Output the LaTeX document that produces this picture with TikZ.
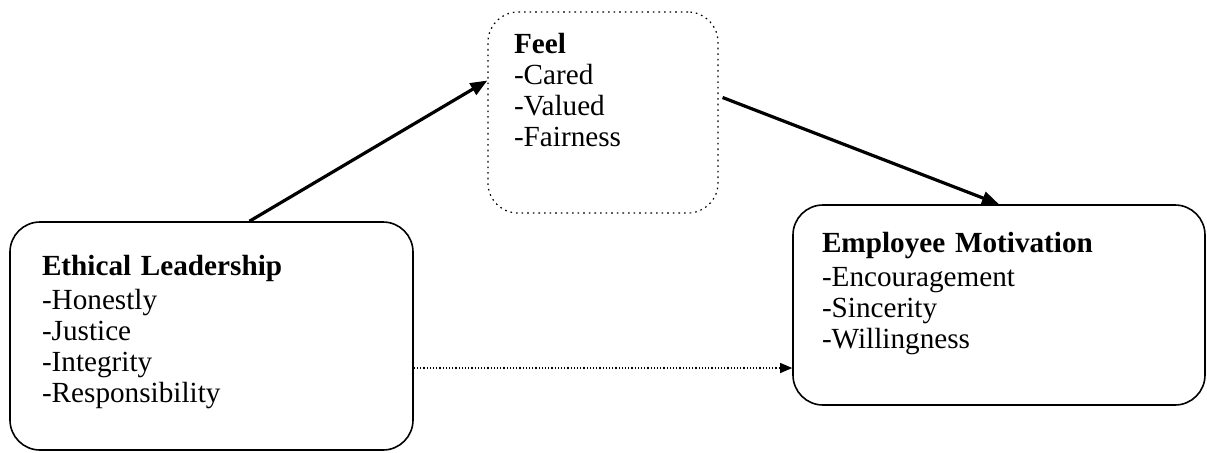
\documentclass[tikz,border=0pt]{standalone}
\usepackage{fontspec}
\setmainfont{Liberation Serif}
\usetikzlibrary{arrows.meta, positioning}

\begin{document}
\begin{tikzpicture}[x=0.5pt, y=-0.5pt]
% Define box styles
\tikzstyle{factor} = [rectangle, draw=black, line width=0.8pt, rounded corners=15pt, inner ysep=0pt, align=left, font=\fontsize{14.6}{15.5}\selectfont]
\tikzstyle{arrow} = [-{Triangle[length=8.5pt,width=6.5pt]}, line width=1.6pt, draw=black]
\tikzstyle{direct} = [-{Triangle[length=6pt,width=5pt]}, densely dotted, line width=0.6pt, draw=black]
\useasboundingbox (0,0) rectangle (1207,452);
% Define nodes (variables)
\node[factor, minimum width=201.5pt, minimum height=114pt, text width=169.5pt, inner xsep=16pt] (EthicalLeadership) at (211.5,336)
  {\textbf{Ethical Leadership}\\[1.5pt] -Honestly\\ -Justice\\ -Integrity\\ -Responsibility\rule[-7.5pt]{0pt}{0pt}};
\node[factor, dotted, line width=0.6pt, minimum width=115pt, minimum height=100.5pt, text width=89pt, inner xsep=13pt] (Feel) at (603,112.5)
  {\textbf{Feel}\\ -Cared\\ -Valued\\ -Fairness\rule[-22.5pt]{0pt}{0pt}};
\node[factor, minimum width=206pt, minimum height=100pt, text width=177pt, inner xsep=14.5pt] (EmployeeMotivation) at (999,305)
  {\textbf{Employee Motivation}\\[1.5pt] -Encouragement\\ -Sincerity\\ -Willingness\rule[-14.5pt]{0pt}{0pt}};
% Relationships (arrows)
\draw[arrow] ([xshift=19pt]EthicalLeadership.north) -- ([yshift=16pt]Feel.west);
\draw[arrow] ([xshift=2pt, yshift=7.5pt]Feel.east) -- (EmployeeMotivation.north);
\draw[direct] ([yshift=-16pt]EthicalLeadership.east) -- ([yshift=-31.5pt]EmployeeMotivation.west);
\end{tikzpicture}
\end{document}
